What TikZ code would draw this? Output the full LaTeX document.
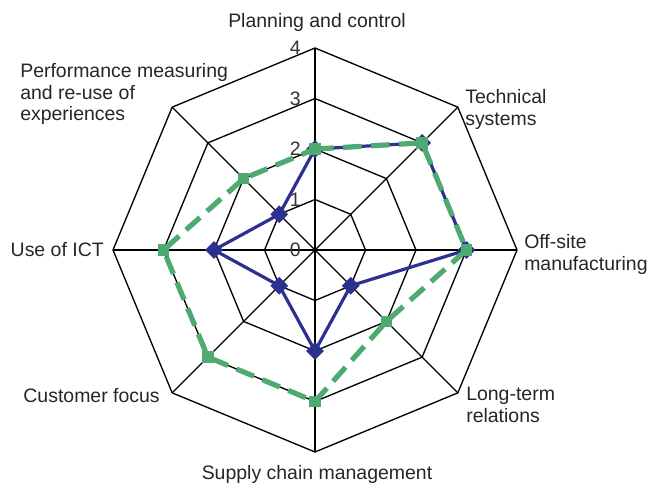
\documentclass[tikz,border=0pt]{standalone}
\usepackage{fontspec}
\setmainfont{Liberation Sans}
\usepackage{xcolor}
\usetikzlibrary{calc,shapes.geometric}

\definecolor{seriesblue}{RGB}{44,48,142}
\definecolor{seriesgreen}{RGB}{78,170,112}

\begin{document}
\begin{tikzpicture}[x=0.75pt, y=0.75pt,
        web/.style={draw, line width=1pt},
        axislabel/.style={font=\fontsize{14.6}{16}\selectfont, inner sep=0pt, align=left, text=black!85},
        ticklabel/.style={font=\fontsize{14.6}{16}\selectfont, inner sep=0pt, anchor=east, text=black!80},
        blueline/.style={draw=seriesblue, line width=2.4pt, line join=round},
        greenline/.style={draw=seriesgreen, line width=3.9pt, dash pattern=on 14pt off 7pt},
        diamondmark/.style={diamond, fill=seriesblue, inner sep=0pt, minimum size=13.5pt},
        squaremark/.style={rectangle, fill=seriesgreen, inner sep=0pt, minimum size=8.5pt}]

        \useasboundingbox (0,0) rectangle (659,483);
        \coordinate (c) at (315,233);

        % Axis ends
        \foreach \a [count=\i] in {90,45,...,-225}
            \coordinate (ax\i) at ($(c)+(\a:202)$);

        % Web
        \foreach \k in {1,...,4}
            \draw[web] ($(c)+(90:\k*50.5)$) \foreach \a in {45,0,...,-225} { -- ($(c)+(\a:\k*50.5)$) } -- cycle;
        \foreach \i in {1,...,8}
            \draw[web] (c) -- (ax\i);

        % Scale
        \foreach \k in {0,...,4}
            \node[ticklabel] (tick\k) at ($(c)+(-14,\k*50.5)$) {\k};

        % Series 1
        \foreach \v [count=\i] in {2,3,3,1,2,1,2,1}
            \coordinate (b\i) at ($(c)!\v/4!(ax\i)$);
        \draw[blueline] (b1) -- (b2) -- (b3) -- (b4) -- (b5) -- (b6) -- (b7) -- (b8) -- cycle;
        \foreach \i in {1,...,8}
            \node[diamondmark] (bm\i) at (b\i) {};

        % Series 2
        \foreach \v [count=\i] in {2,3,3,2,3,3,3,2}
            \coordinate (g\i) at ($(c)!\v/4!(ax\i)$);
        \draw[greenline] (g1) -- (g2) -- (g3) -- (g4) -- (g5) -- (g6) -- (g7) -- (g8) -- cycle;
        \foreach \i in {1,...,8}
            \node[squaremark] (gm\i) at (g\i) {};

        % Axis labels
        \node[axislabel, anchor=base] (plan) at (317,455.3) {Planning and control};
        \node[axislabel, anchor=west] (tech) at (465,373.5) {Technical\\ systems};
        \node[axislabel, anchor=west] (offsite) at (524,228.5) {Off-site\\manufacturing};
        \node[axislabel, anchor=west] (longterm) at (466,78) {Long-term\\relations};
        \node[axislabel, anchor=base] (supply) at (317,4) {Supply chain management};
        \node[axislabel, anchor=base east] (customer) at (160,81) {Customer focus};
        \node[axislabel, anchor=base east] (ict) at (104,227) {Use of ICT};
        \node[axislabel, anchor=west] (perf) at (20,389) {Performance measuring\\and re-use of\\experiences};

    \end{tikzpicture}
\end{document}
